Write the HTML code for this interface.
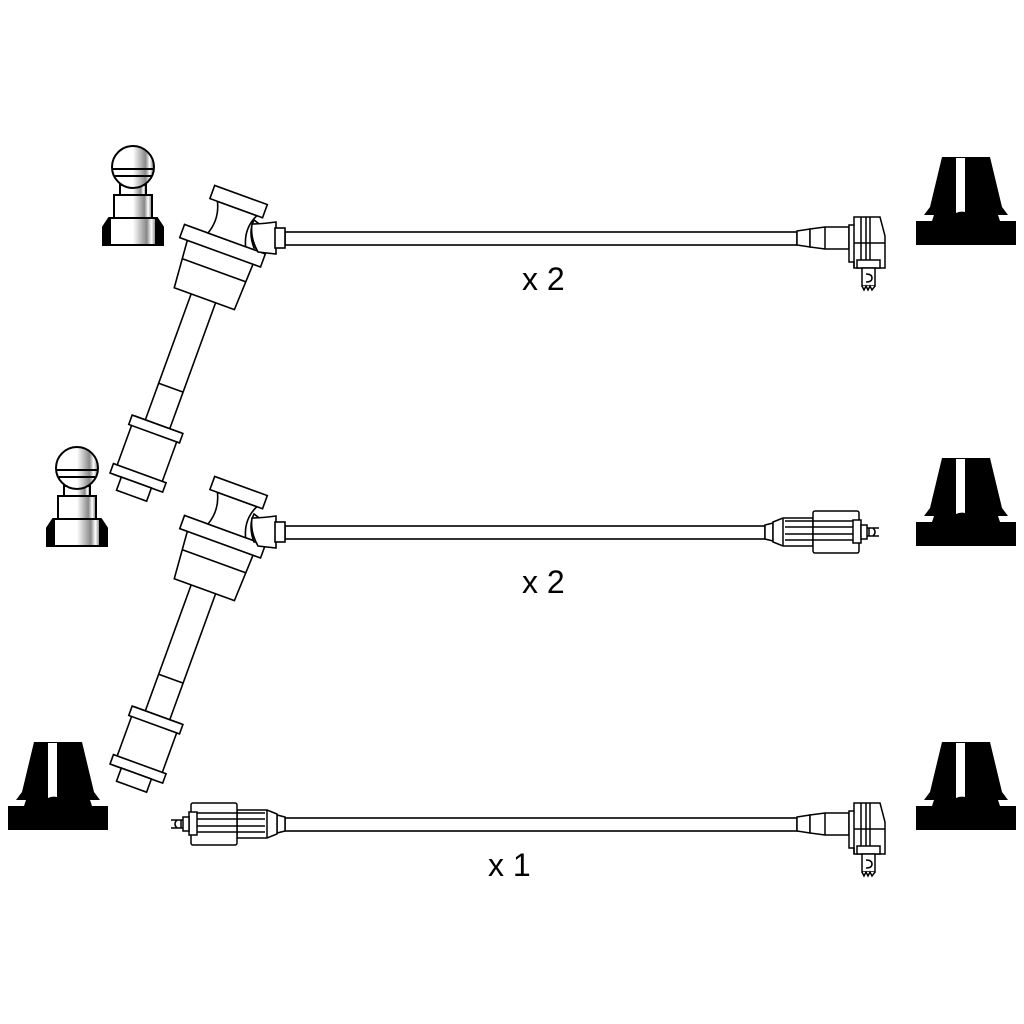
<!DOCTYPE html>
<html><head><style>html,body{margin:0;padding:0;background:#fff}svg{display:block}</style></head>
<body>
<svg width="1024" height="1024" viewBox="0 0 1024 1024" xmlns="http://www.w3.org/2000/svg">
<defs>
<linearGradient id="g" x1="0" x2="1" y1="0" y2="0">
<stop offset="0" stop-color="#fff"/><stop offset="0.5" stop-color="#fff"/><stop offset="0.8" stop-color="#888"/><stop offset="0.9" stop-color="#fff"/><stop offset="1" stop-color="#777"/>
</linearGradient>
<g id="term" stroke="#000" stroke-width="2">
<path d="M0,82 L6,73 L54,73 L60,82 L60,100 L0,100 Z" fill="#000"/>
<rect x="7" y="73" width="46" height="27" fill="url(#g)"/>
<rect x="11" y="50" width="38" height="23" fill="url(#g)"/>
<rect x="17" y="40" width="26" height="10" fill="url(#g)"/>
<circle cx="30" cy="22" r="21" fill="url(#g)"/>
<line x1="10" y1="24" x2="50" y2="24"/><line x1="12" y1="31" x2="48" y2="31"/>
</g>
<g id="cap">
<path d="M26,0 L74,0 L86,50 L92,58 L82,58 L84,64 L100,64 L100,88 L0,88 L0,64 L16,64 L18,58 L8,58 L14,50 Z" fill="#000"/>
<path d="M40,1 L49,1 L49,55 Q44,54 40,56 Z" fill="#fff"/>
</g>
<g id="boot" fill="#fff" stroke="#000" stroke-width="1.6">
<rect x="-13" y="100" width="26" height="150"/>
<line x1="-13" y1="205" x2="13" y2="205"/>
<rect x="-24" y="244" width="48" height="62"/>
<rect x="-27" y="244" width="54" height="10"/>
<rect x="-28" y="296" width="56" height="10"/>
<rect x="-16" y="306" width="32" height="14"/>
<path d="M-35,60 L35,60 L33,110 L-31,110 Z"/>
<line x1="-34" y1="80" x2="34" y2="80"/>
<rect x="-43" y="47" width="86" height="14"/>
<path d="M-20,14 Q-12,30 -18,47 L22,47 Q14,30 22,14 Z"/>
<rect x="-28" y="0" width="56" height="14"/>
</g>
<g id="elbow" fill="#fff" stroke="#000" stroke-width="1.6">
<path d="M0,-18 Q-6,-6 0,10 L8,10 L8,-12 Z"/>
<path d="M-2,-14 Q8,-14 22,-16 L22,16 L4,14 Q-4,0 -2,-14 Z"/>
<rect x="21" y="-10" width="10" height="20"/>
</g>
<g id="rconn" fill="#fff" stroke="#000" stroke-width="1.5">
<path d="M0,-7 L13,-9 L13,9 L0,7 Z"/>
<path d="M13,-9 L28,-11 L52,-11 L52,11 L28,11 L13,9 Z"/>
<line x1="28" y1="-11" x2="28" y2="11"/>
<path d="M52,-13 L57,-13 L57,-21 L83,-21 L88,-2 L88,30 L57,30 L57,24 L52,24 Z"/>
<line x1="57" y1="-13" x2="57" y2="30"/>
<line x1="57" y1="5" x2="88" y2="5"/>
<line x1="64" y1="-21" x2="64" y2="30"/><line x1="69" y1="-21" x2="69" y2="30"/><line x1="73" y1="-21" x2="73" y2="30"/>
<rect x="60" y="22" width="23" height="8"/>
<rect x="65" y="30" width="13" height="18"/>
<path d="M65,48 L67,52 L69,48 L71,52 L73,48 L75,52 L78,48"/>
<path d="M69,36 Q75,36 75,40 Q75,44 69,44"/>
</g>
<g id="sconn" fill="#fff" stroke="#000" stroke-width="1.5">
<path d="M0,-7 L8,-9 L8,9 L0,7 Z"/>
<path d="M8,-10 L18,-14 L48,-14 L48,14 L18,14 L8,10 Z"/>
<line x1="18" y1="-14" x2="18" y2="14"/>
<rect x="48" y="-21" width="46" height="42" rx="2"/>
<line x1="20" y1="-5" x2="90" y2="-5"/><line x1="20" y1="2" x2="90" y2="2"/>
<line x1="20" y1="-11" x2="90" y2="-11"/><line x1="20" y1="8" x2="90" y2="8"/>
<rect x="88" y="-12" width="8" height="23"/>
<rect x="96" y="-7" width="6" height="14"/>
<path d="M102,-4 L114,-4 M102,4 L114,4"/>
<path d="M104,-4 L104,4 M108,-4 Q112,0 108,4"/>
</g>
</defs>

<use href="#term" x="103" y="145"/>
<use href="#term" x="47" y="446"/>
<use href="#cap" x="916" y="157"/>
<use href="#cap" x="916" y="458"/>
<use href="#cap" x="916" y="742"/>
<use href="#cap" x="8" y="742"/>

<g fill="#fff" stroke="#000" stroke-width="1.6">
<rect x="285" y="232" width="512" height="13"/>
<rect x="285" y="526" width="480" height="13"/>
<rect x="285" y="818" width="512" height="13"/>
</g>

<g transform="translate(241,195) rotate(20)"><use href="#boot"/></g>
<use href="#elbow" x="254" y="238"/>
<g transform="translate(241,486) rotate(20)"><use href="#boot"/></g>
<use href="#elbow" x="254" y="532"/>

<use href="#rconn" x="797" y="238"/>
<use href="#rconn" x="797" y="824"/>
<use href="#sconn" x="765" y="532"/>
<g transform="translate(285,824) scale(-1,1)"><use href="#sconn"/></g>

<g font-family="Liberation Sans, sans-serif" font-size="32" fill="#000">
<text x="522" y="290">x 2</text>
<text x="522" y="593">x 2</text>
<text x="488" y="876">x 1</text>
</g>
</svg>
</body></html>
